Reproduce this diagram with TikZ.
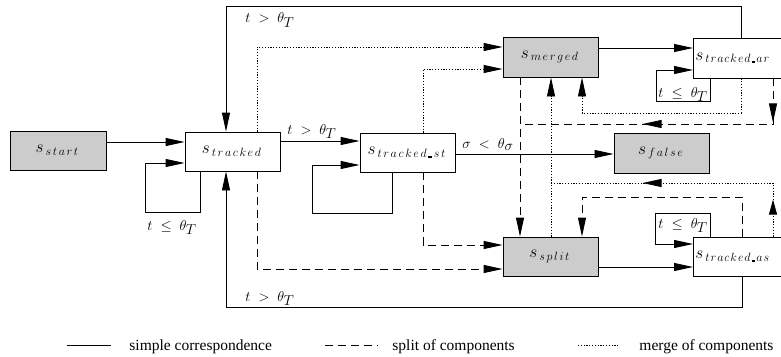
\documentclass[tikz,border=0pt]{standalone}
\usepackage{fontspec}
\newfontfamily\legendfont{Liberation Serif}
\usetikzlibrary{arrows.meta,decorations.markings}
\makeatletter
\newcommand\lsp[2][2.5mu]{\@tfor\lsp@c:=#2\do{\lsp@c\mkern#1}}
\makeatother
\newcommand\usc{\mbox{\rule[-0.4pt]{3.8pt}{1.8pt}}}
\newcommand\stname[2][2.5mu]{$s_{\,\lsp[#1]{#2}}$}
\newcommand\thT{\theta_{\mkern-1mu\textstyle T}}
\begin{document}
\begin{tikzpicture}[x=1pt,y=-1pt,
  every path/.style={line width=0.9pt},
  box/.style={draw, line width=0.9pt, rectangle, inner sep=0pt, minimum height=39pt,
    minimum width=95pt, font=\fontsize{17}{20}\selectfont},
  gbox/.style={box, fill=black!20},
  tip/.style={-{Triangle[length=19pt,width=8pt]}},
  cn/.style={draw, tip},
  sp/.style={draw, tip, dash pattern=on 8pt off 5pt},
  mg/.style={draw, tip, dash pattern=on 1.2pt off 1.6pt},
  lbl/.style={font=\fontsize{14}{16}\selectfont, inner sep=0pt, anchor=base west},
  lg/.style={font=\legendfont\fontsize{15.5}{18}\selectfont, inner sep=0pt, anchor=base west}
]
\useasboundingbox (0,0) rectangle (781,356);

% states
\node[gbox, minimum width=96pt] (start) at (58,150.5) {\stname{start}};
\node[box] (tracked) at (232.5,151.5) {\stname{tracked}};
\node[box] (trst) at (407.5,152.5) {\stname{tracked\usc st}};
\node[gbox, minimum height=40pt] (merged) at (550.5,57) {\stname{merged}};
\node[box, minimum width=110pt, minimum height=40pt, anchor=west, align=left,
  text width=106pt, inner xsep=2pt] (ar) at (693,58) {\stname[1.5mu]{tracked\usc ar}};
\node[gbox, minimum height=40pt] (false) at (661.5,153) {\stname{false}};
\node[gbox] (split) at (550.5,256.5) {\stname{split}};
\node[box, minimum width=110pt, anchor=west, align=left,
  text width=106pt, inner xsep=2pt] (as) at (693,256.5) {\stname[1.5mu]{tracked\usc as}};

% simple correspondence
\draw[cn] (start.east |- 0,142) -- (tracked.west |- 0,142);
\draw[cn] (tracked.south -| 200,0) |- (145,212) |- (tracked.west |- 0,163);
\draw[cn] (ar.north -| 741,0) |- (226,6) -- (tracked.north -| 226,0);
\draw[cn] (tracked.east |- 0,141) -- (trst.west |- 0,141);
\draw[cn] (trst.south -| 392,0) |- (312,213) |- (trst.west |- 0,165);
\draw[cn] (trst.east |- 0,154) -- (false.west |- 0,154);
\draw[cn] (merged.east |- 0,48) -- (ar.west |- 0,48);
\draw[cn] (ar.south -| 710,0) |- (656,101) |- (ar.west |- 0,70);
\draw[cn] (split.east |- 0,267) -- (as.west |- 0,267);
\draw[cn] (as.north -| 710,0) |- (655,213) |- (as.west |- 0,244);
\draw[cn] (as.south -| 742,0) |- (226,307) -- (tracked.south -| 226,0);

% merge of components
\draw[mg] (tracked.north -| 257,0) |- (merged.west |- 0,47);
\draw[mg] (trst.north -| 423,0) |- (merged.west |- 0,69);
\draw[mg] (ar.south -| 741,0) |- (582,113) -- (merged.south -| 582,0);
\draw[mg] (split.north -| 551,0) -- (merged.south -| 551,0);
\path[draw, dash pattern=on 1.2pt off 1.6pt, postaction={decorate}, decoration={markings,
  mark=at position 37pt with {\arrow{Triangle[length=15pt,width=8pt]}},
  mark=at position 184pt with {\arrow{Triangle[length=19pt,width=8pt]}}}]
  (as.north -| 773,0) |- (551,183);

% split of components
\draw[sp] (merged.south -| 520,0) -- (split.north -| 520,0);
\path[draw, dash pattern=on 8pt off 5pt, postaction={decorate}, decoration={markings,
  mark=at position 44pt with {\arrow{Triangle[length=19pt,width=8pt]}},
  mark=at position 176pt with {\arrow{Triangle[length=19pt,width=8pt]}}}]
  (ar.south -| 773,0) |- (520,124);
\draw[sp] (as.north -| 742,0) |- (582,197) -- (split.north -| 582,0);
\draw[sp] (trst.south -| 423,0) |- (split.west |- 0,245);
\draw[sp] (tracked.south -| 257,0) |- (split.west |- 0,269);

% transition labels
\node[lbl] (l1) at (245,22.5) {$t\;>\;\thT$};
\node[lbl] (l2) at (287,134) {$t\;>\;\thT$};
\node[lbl] (l3) at (245,301) {$t\;>\;\thT$};
\node[lbl] (l4) at (147,230) {$t\;\le\;\thT$};
\node[lbl] (l5) at (462,148) {$\sigma\;<\;\theta_{\textstyle\sigma}$};
\node[lbl] (l6) at (658,97) {$t\;\le\;\thT$};
\node[lbl] (l7) at (658,228) {$t\;\le\;\thT$};

% legend
\coordinate (a1) at (67,345); \coordinate (a2) at (111,345);
\coordinate (b1) at (325,345); \coordinate (b2) at (378,345);
\coordinate (c1) at (578,345); \coordinate (c2) at (618,345);
\draw (a1) -- (a2);
\draw[dash pattern=on 8pt off 5pt] (b1) -- (b2);
\draw[dash pattern=on 1.2pt off 1.6pt] (c1) -- (c2);
\node[lg] (t1) at (129,350) {simple correspondence};
\node[lg] (t2) at (392,350) {split of components};
\node[lg] (t3) at (639,350) {merge of components};
\end{tikzpicture}
\end{document}
